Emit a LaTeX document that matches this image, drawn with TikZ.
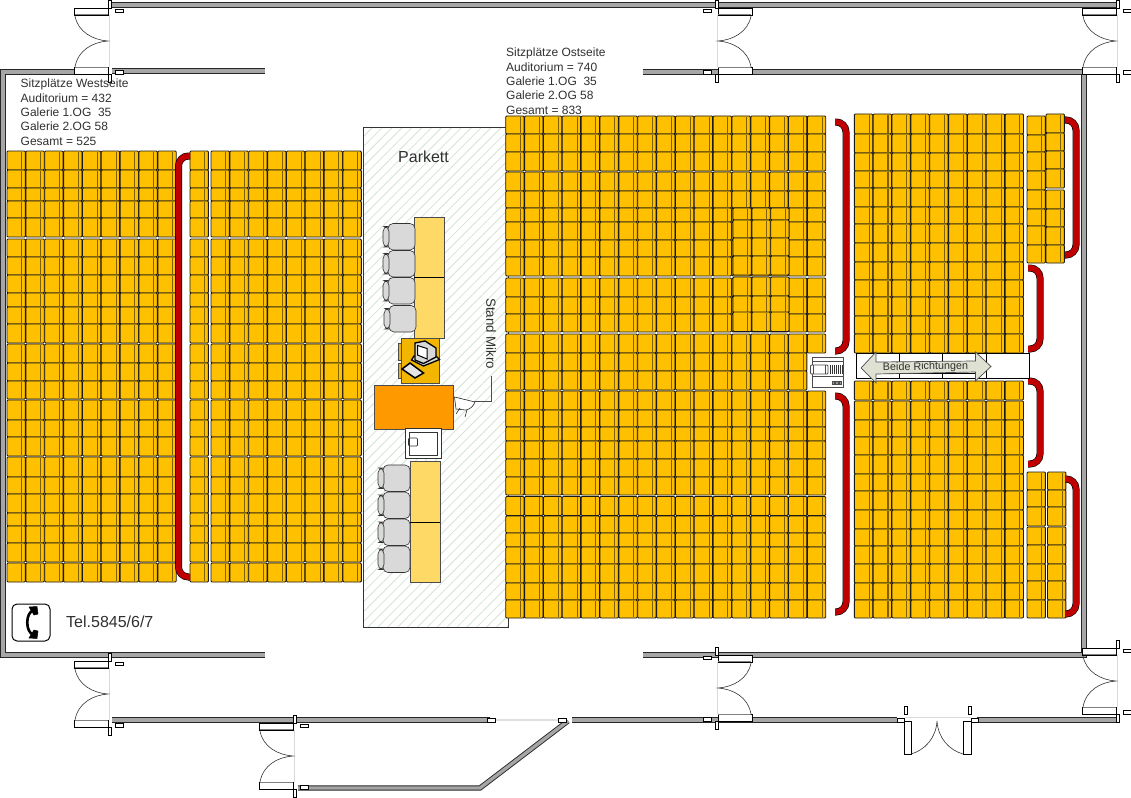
\documentclass[tikz,border=0pt]{standalone}
\usepackage{fontspec}
\setmainfont{Liberation Sans}
\usetikzlibrary{patterns.meta}
\definecolor{seatyellow}{HTML}{FFC000}
\definecolor{seatback}{HTML}{7F6000}
\definecolor{railred}{HTML}{C00000}
\definecolor{deskpale}{HTML}{FFD966}
\definecolor{deskorange}{HTML}{FF9900}
\definecolor{hatchgreen}{HTML}{D3E3D3}
\definecolor{arrowpale}{HTML}{DFE2D2}
\definecolor{textgrey}{HTML}{303030}
\newcommand{\seatblock}[3]{
\foreach \y/\h in {#3} {\foreach \n in {0,...,#2} {
\draw[seat] (#1+\n*18.85,\y) rectangle ++(18.4,\h);
\draw[seatstrip] (#1+\n*18.85+14.8,\y+.6) -- ++(0,\h-1.2);
}}}
\newcommand{\doordouble}[2]{
\begin{scope}[shift={(#1)},#2]
\draw[pale] (1,7) -- (1,59);
\draw[leaf] (-34,0) rectangle (0,7);
\draw[leaf] (-34,59) rectangle (0,66);
\draw[black!50,line width=1.2pt] (-33,6.6) -- (0,6.6) (-33,59.4) -- (0,59.4);
\draw[swing] (-33,8) .. controls (-30,24) and (-15,32) .. (0,33) .. controls (-15,34) and (-30,42) .. (-33,59);
\draw[leaf] (0,-8) rectangle (3,0);
\draw[leaf] (0,66) rectangle (3,74);
\draw[leaf] (7,1) rectangle (15,4);
\draw[leaf] (7,62) rectangle (15,66);
\end{scope}}
\newcommand{\chairseat}[2]{
\draw[chair] (#1+5,#2) rectangle ++(27,26.5);
\draw[chair] (#1,#2+3) rectangle ++(6,20.5);
}
\begin{document}
\begin{tikzpicture}[x=1pt,y=-1pt,
wall/.style={draw=black!85,double=black!35,double distance=3.4pt,line width=.9pt},
palewall/.style={draw=black!12,line width=1.5pt},
seat/.style={fill=seatyellow,draw=black!90,line width=.9pt,rounded corners=1pt},
seatstrip/.style={draw=seatback,line width=1.1pt},
rail/.style={draw=black,double=railred,double distance=5.8pt,line width=.6pt,rounded corners=10pt},
leaf/.style={draw=black,fill=white,line width=.9pt},
swing/.style={draw=black!80,line width=.6pt},
pale/.style={draw=black!15,line width=.8pt},
desk/.style={draw=black!70,fill=deskpale,line width=.9pt},
chair/.style={draw=black!80,fill=black!15,line width=.6pt,rounded corners=5pt},
label/.style={text=textgrey,inner sep=0pt},
hatched/.style={draw=black!80,line width=.6pt,pattern={Lines[angle=45,distance=7pt,line width=.8pt]},pattern color=hatchgreen}
]
\useasboundingbox (0,0) rectangle (1131,797);

\draw[hatched] (363,127) rectangle (508,627);

\draw[wall] (112,5) -- (1116,5);
\draw[wall] (112,71) -- (265,71);
\draw[wall] (74,72) -- (3,72) -- (3,655) -- (265,655);
\draw[wall] (643,72) -- (1084,72) -- (1084,655) -- (643,655);
\draw[wall] (112,720) -- (490,720);
\draw[wall] (572,720) -- (897,720);
\draw[wall] (977,720) -- (1120,720);
\draw[wall] (298,788) -- (480,788) -- (568,721);
\draw[palewall] (495,720) -- (558,720);
\draw[leaf] (487,718) rectangle (495,722);
\draw[leaf] (558,718) rectangle (566,722);

\doordouble{108,8}{}
\doordouble{718,8}{xscale=-1}
\doordouble{1116,8}{}
\doordouble{108,661}{}
\doordouble{718,655}{xscale=-1}
\doordouble{1116,648}{}
\doordouble{293,723}{}

\draw[pale] (905,717) -- (971,717);
\draw[leaf] (897,718) rectangle (904,722);
\draw[leaf] (971,718) rectangle (978,722);
\draw[leaf] (904,706) rectangle (907,714);
\draw[leaf] (968,706) rectangle (971,714);
\draw[leaf] (904,721) rectangle (911,754);
\draw[leaf] (963,721) rectangle (971,754);
\draw[swing] (911,754) .. controls (925,750) and (936,738) .. (937,721) .. controls (938,738) and (949,750) .. (963,754);

\foreach \x/\m in {7/8,190/0,211/7} {
\seatblock{\x}{\m}{151/19,170/18,188/13,201/17,218/19,
239/18,257/18,275/18,293/14,307/17,324/19,
344/19,363/18,381/18,400/20,420/17,437/19,
457/20,477/17,494/19,513/13,526/17,543/19,563/19}
}

\seatblock{505.7}{4}{116/18,134/18,152/19,172/19,191/17,208/14,222/18,240/17,257/19,
278/19,297/17,314/18,334/19,353/18,371/19,391/19,410/17,427/14,441/18,459/18,477/18,
496.5/19,516/17,533/14,547/17,564/19,583/17,600/18}
\seatblock{600}{11}{116/18,134/18,152/19,172/19,191/17,208/14,222/18,240/17,257/19,
278/19,297/17,314/18,334/19}
\seatblock{600}{10}{353/18,371/19}
\seatblock{600}{11}{391/19,410/17,427/14,441/18,459/18,477/18,
496.5/19,516/17,533/14,547/17,564/19,583/17,600/18}
\seatblock{733}{2}{208/12,220/18,238/18,256/19,277/19,296/16.5,312/19.5}

\seatblock{854.3}{8}{114/20,134/19,153/18,171/17,188/19,207/17,224/19,243/19,262/18,
280/17,297/19,316/18,334/19}
\seatblock{1027}{0}{116/19,135/17,152/19,171/19,190/19,209/17,226/19,245/18}
\seatblock{1046}{0}{114/19,133/18,151/18,169/19,190/19,209/18,227/18,245/18}
\seatblock{854.3}{8}{381/19,401/19,420/17,437/18,455/19,474/17,491/19,510/19,529/17,
546/18,564/19,583/17,600/18}
\foreach \x in {1027,1047.5} {
\seatblock{\x}{0}{472/18,490/17,507/19,527/18,545/19,564/17,581/19,600/18}
}

\draw[rail] (190,156) -- (178.5,156) -- (178.5,577) -- (190,577);
\draw[rail] (835,122) -- (846,122) -- (846,351) -- (835,351);
\draw[rail] (835,396) -- (846,396) -- (846,612) -- (835,612);
\draw[rail] (1065,120) -- (1076,120) -- (1076,255) -- (1065,255);
\draw[rail] (1028,268) -- (1040,268) -- (1040,349) -- (1028,349);
\draw[rail] (1028,381) -- (1040,381) -- (1040,464) -- (1028,464);
\draw[rail] (1065,479) -- (1076,479) -- (1076,614) -- (1065,614);

\draw[leaf] (856,353) rectangle (1029,378.5);
\draw[black,line width=.7pt] (876,362) -- (975,362) (876,373) -- (975,373)
(899,353) -- (899,378) (942,353) -- (942,378) (986,353) -- (986,378);
\draw[draw=black!70,fill=arrowpale,line width=.7pt] (861,368) -- (876,352) -- (876,362) -- (975.5,361)
-- (975.5,352) -- (991,366.5) -- (975.5,381) -- (975.5,372) -- (876,374) -- (876,383) -- cycle;
\node[label,font=\fontsize{10.8}{12}\selectfont,rotate=1] (Richtung) at (925.5,367) {Beide Richtungen};

\draw[leaf,draw=black!70] (812,357) rectangle (843,387);
\draw[black!70,line width=.6pt] (812,361.5) -- (843,361.5) (812,376.5) -- (843,376.5);
\draw[leaf,draw=black!70,rounded corners=1pt] (810.5,365) rectangle (828,374);
\draw[black!70,line width=.6pt] (813,365) -- (813,374) (825,365) -- (825,374);
\foreach \x in {830,832,...,842} {\draw[black!80,line width=.7pt] (\x,365) -- (\x,374);}
\foreach \x in {832,835.5,839} {\draw[black!70,fill=black!40,line width=.4pt] (\x,381.5) rectangle ++(2.5,2.5);}

\draw[desk] (414,217) rectangle (444,277);
\draw[desk] (414,277) rectangle (444,338);
\draw[desk] (410,461) rectangle (440,522);
\draw[desk] (410,522) rectangle (440,582);
\draw[black,line width=.7pt] (414,277) -- (444,277) (410,522) -- (440,522);
\chairseat{383}{223.5}
\chairseat{383}{250.5}
\chairseat{383}{277.5}
\chairseat{384}{305.5}
\chairseat{378}{465}
\chairseat{378}{492}
\chairseat{378}{519}
\chairseat{378}{546}

\draw[draw=black!70,fill=seatyellow!95!black,line width=.8pt] (401,338) rectangle (439,383);
\draw[draw=black!70,fill=seatyellow!95!black,line width=.5pt] (398,343) rectangle (401,360);
\draw[draw=black!70,fill=seatyellow!95!black,line width=.5pt] (398,363) rectangle (401,378);
\draw[draw=black,fill=black!15,line width=1.3pt] (411.5,360) -- (414,356) -- (436,356) -- (439.5,359.5) -- (423.5,366) -- cycle;
\draw[draw=black,fill=black!15,line width=1.3pt] (415,343) -- (425,341) -- (436,348) -- (436,357) -- (423.5,363.5) -- (415,360) -- cycle;
\draw[draw=black,fill=white,line width=1pt] (417.5,345.5) -- (427,348.5) -- (427,359) -- (417.5,355) -- cycle;
\draw[draw=black,fill=black!10,line width=1.5pt] (402,369) -- (410,363) -- (423.5,373) -- (415,378) -- cycle;

\draw[draw=black!70,fill=deskorange,line width=.9pt] (374.5,385) rectangle (453.5,429);
\draw[black!80,line width=.8pt,fill=white] (405,428.5) rectangle (441,458);
\draw[black!80,line width=.7pt] (409.5,432) rectangle (437.5,455);
\draw[black!80,line width=.7pt,rounded corners=1pt] (408.5,438) rectangle (417.5,446);
\coordinate (MikroFuss) at (474,401);
\draw[black!85,line width=.6pt,fill=white] (454.5,397) -- (475,402) .. controls (473,407) and (470,409) .. (466,410) -- (456,409) -- cycle;
\draw[black!85,line width=.6pt] (460,408) -- (456,414) (467,410) -- (465,417);
\node[label,font=\fontsize{13.3}{15}\selectfont,rotate=-90,anchor=west] (Mikro) at (491,298) {Stand Mikro};
\coordinate (MikroEnde) at (491.5,376);
\draw[black!70,line width=.7pt] (MikroFuss) -- (491.5,401) -- (MikroEnde);

\node[label,font=\fontsize{16}{18}\selectfont,anchor=west] (Parkett) at (398,157) {Parkett};

\node[label,align=left,anchor=north west,font=\fontsize{12}{14.3}\selectfont] (West) at (20.5,79)
{Sitzplätze Westseite\\Auditorium = 432\\Galerie 1.OG\ \ 35\\Galerie 2.OG 58\\Gesamt = 525};
\node[label,align=left,anchor=north west,font=\fontsize{12}{14.3}\selectfont] (Ost) at (506,48)
{Sitzplätze Ostseite\\Auditorium = 740\\Galerie 1.OG\ \ 35\\Galerie 2.OG 58\\Gesamt = 833};

\draw[black,line width=1pt,fill=white,rounded corners=5pt] (12,604) rectangle (50,641);
\draw[black,line width=2.6pt] (34,610) .. controls (25,612) and (25,633) .. (34,635);
\draw[black,fill=black,line width=.5pt] (29,607) -- (37,606.5) -- (38,614) -- (34,615) -- cycle;
\draw[black,fill=black,line width=.5pt] (29,638) -- (37,638.5) -- (38,631) -- (34,630) -- cycle;
\node[label,font=\fontsize{16}{18}\selectfont,anchor=west] (Tel) at (66,622) {Tel.5845/6/7};
\end{tikzpicture}
\end{document}
